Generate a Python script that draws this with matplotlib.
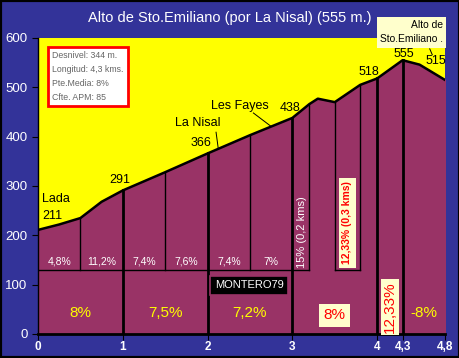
import matplotlib.pyplot as plt
import numpy as np
from matplotlib.patches import Rectangle

plt.rcParams['font.family'] = ['Liberation Sans', 'DejaVu Sans']

# Profile (km, m)
dist = [0, 0.25, 0.5, 0.75, 1.0, 1.5, 2.0, 2.5, 3.0, 3.2, 3.3, 3.5, 3.8, 4.0, 4.3, 4.5, 4.8]
elev = [211, 222, 235, 268, 291, 328, 366, 403, 438, 466, 477, 470, 505, 518, 555, 546, 515]

# small segments (upper grades)
seg_bounds = [0.5, 1.5, 2.5, 3.2, 3.5, 3.8]
seg_mid = [0.25, 0.75, 1.25, 1.75, 2.25, 2.75]
seg_grades = ['4,8%', '11,2%', '7,4%', '7,6%', '7,4%', '7%']

# km segments (lower grades)
km_bounds = [1, 2, 3, 4, 4.3]
km_mid = [0.5, 1.5, 2.5, 3.5, 4.15, 4.55]
km_grades = ['8%', '7,5%', '7,2%', '8%', '12,33%', '-8%']

xticks = [0, 1, 2, 3, 4, 4.3, 4.8]
xlabels = ['0', '1', '2', '3', '4', '4,3', '4,8']

BLUE = '#333399'
PURPLE = '#993366'
CREAM = '#FFFFCC'
split = 130

fig = plt.figure(figsize=(4.6, 3.58), dpi=100, facecolor=BLUE)
ax = fig.add_axes([38 / 460, 1 - 334 / 358, 407 / 460, 296 / 358])
ax.set_facecolor('yellow')
ax.set_xlim(0, 4.8)
ax.set_ylim(0, 600)

ax.fill_between(dist, elev, 0, color=PURPLE, zorder=1)
ax.plot(dist, elev, color='black', lw=1.8, zorder=4)

for b in seg_bounds:
    ax.plot([b, b], [split, np.interp(b, dist, elev)], color='black', lw=1, zorder=3)
for b in km_bounds:
    ax.plot([b, b], [0, np.interp(b, dist, elev)], color='black', lw=2, zorder=3)
ax.plot([0, 3.2], [split, split], color='black', lw=1, zorder=3)
ax.plot([3.5, 3.8], [split, split], color='black', lw=1, zorder=3)

for x, g in zip(seg_mid, seg_grades):
    ax.text(x, 146, g, color='white', fontsize=7.5, ha='center', va='center', zorder=5)
ax.text(3.11, 207, '15% (0,2 kms)', color='white', fontsize=8, rotation=90,
        ha='center', va='center', zorder=5)
ax.text(3.65, 225, '12,33% (0,3 kms)', color='red', fontsize=7.5, rotation=90,
        fontweight='bold', ha='center', va='center', zorder=5,
        bbox=dict(boxstyle='square,pad=0.35', fc=CREAM, ec='none'))

for i, (x, g) in enumerate(zip(km_mid, km_grades)):
    if i == 3:
        ax.text(x, 38, g, color='red', fontsize=11, ha='center', va='center', zorder=5,
                bbox=dict(boxstyle='square,pad=0.3', fc=CREAM, ec='none'))
    elif i == 4:
        ax.text(x, 55, g, color='red', fontsize=11, rotation=90, ha='center', va='center',
                zorder=5, bbox=dict(boxstyle='square,pad=0.15', fc=CREAM, ec='none'))
    else:
        ax.text(x, 42, g, color='yellow', fontsize=11, ha='center', va='center', zorder=5)

ax.text(2.49, 99, 'MONTERO79', color='white', fontsize=8, ha='center', va='center', zorder=6,
        bbox=dict(boxstyle='square,pad=0.4', fc='black', ec=PURPLE, lw=1.2))

# place labels
lab = dict(color='black', fontsize=9, ha='center', va='center', zorder=6)
ax.text(0.21, 274, 'Lada', **lab)
ax.text(0.17, 239, '211', **lab)
ax.text(0.96, 312, '291', **lab)
ax.text(1.88, 428, 'La Nisal', **lab)
ax.plot([2.10, 2.125], [409, 377], color='black', lw=0.7, zorder=6)
ax.text(1.92, 387, '366', **lab)
ax.text(2.385, 462, 'Les Fayes', **lab)
ax.plot([2.54, 2.74], [448, 422], color='black', lw=0.7, zorder=6)
ax.text(2.975, 458, '438', **lab)
ax.text(3.90, 531, '518', **lab)
ax.text(4.32, 568, '555', **lab)
ax.text(4.69, 553, '515', **lab)
ax.plot([4.62, 4.65], [578, 566], color='black', lw=0.7, zorder=6)
ax.text(4.78, 612, 'Alto de\nSto.Emiliano .', color='black', fontsize=7.4, ha='right',
        va='center', multialignment='right', linespacing=1.6, zorder=7, clip_on=False,
        bbox=dict(boxstyle='square,pad=0.3', fc=CREAM, ec='none'))

ax.text(0.035, 0.955, 'Desnivel: 344 m.\nLongitud: 4,3 kms.\nPte.Media: 8%\nCfte. APM: 85',
        transform=ax.transAxes, color='#666666', fontsize=6.3, ha='left', va='top',
        linespacing=1.7, zorder=7,
        bbox=dict(boxstyle='square,pad=0.45', fc='white', ec='red', lw=2))

ax.set_xticks(xticks)
ax.set_xticklabels(xlabels, color='white', fontweight='bold', fontsize=8.5)
ax.set_yticks(range(0, 601, 100))
ax.tick_params(axis='y', colors='black', labelcolor='white', labelsize=9.5, length=4)
ax.tick_params(axis='x', colors='black', labelcolor='white', length=4, pad=1)
for s in ['top', 'right']:
    ax.spines[s].set_visible(False)
ax.spines['bottom'].set_linewidth(2)
ax.spines['left'].set_linewidth(1)
ax.spines['left'].set_zorder(8)

fig.text(0.5, 1 - 18 / 358, 'Alto de Sto.Emiliano (por La Nisal) (555 m.)', color='white',
         fontsize=10.5, ha='center', va='center')
fig.patches.append(Rectangle((0, 0), 1, 1, transform=fig.transFigure, fill=False,
                             ec='black', lw=3))

fig.savefig('out.png', dpi=100, facecolor=BLUE)
